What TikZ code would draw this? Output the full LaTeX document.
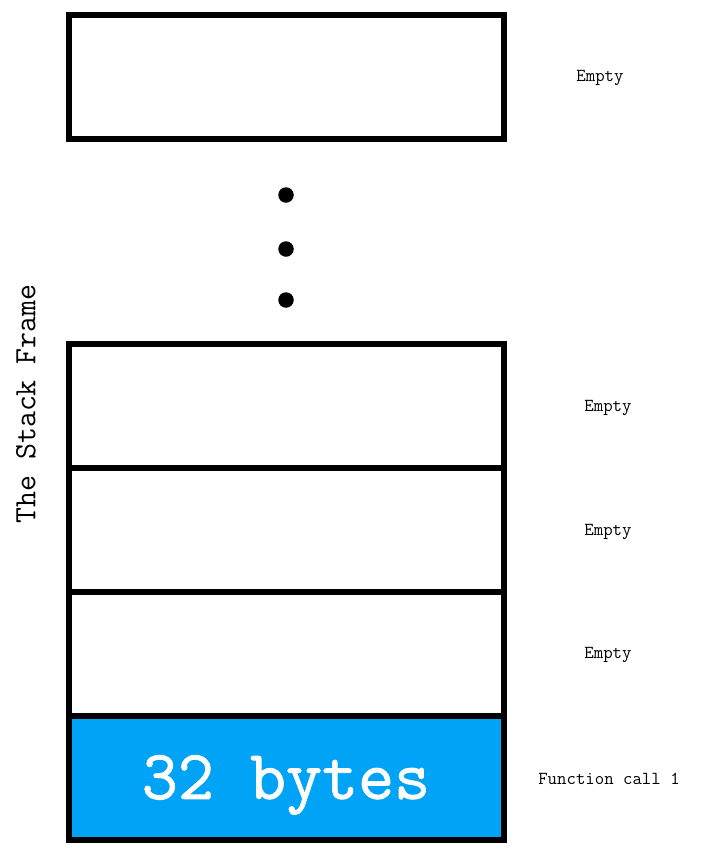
\documentclass[tikz,border=0pt]{standalone}
\usepackage{fontspec}
\newfontfamily\cmono{Latin Modern Mono}
\newfontfamily\cmonobold[FakeBold=1.2]{Latin Modern Mono}
\definecolor{stackblue}{RGB}{0,163,245}
\tikzset{
  cell/.style={draw=black, line width=6pt, minimum width=434.5pt, minimum height=124pt, inner sep=0pt, anchor=center},
  lbl/.style={font=\cmono\fontsize{18.3}{21}\selectfont, inner sep=0pt, anchor=center},
  dotc/.style={circle, fill=black, minimum size=15.5pt, inner sep=0pt}
}
\begin{document}
\begin{tikzpicture}[x=1pt,y=-1pt]
\useasboundingbox (0,0) rectangle (703,868);
\node[cell] (top) at (286.25,77) {};
\node[dotc] (d1) at (286,195) {};
\node[dotc] (d2) at (286,249) {};
\node[dotc] (d3) at (286,300) {};
\node[cell] (c4) at (286.25,406) {};
\node[cell] (c3) at (286.25,530) {};
\node[cell] (c2) at (286.25,654) {};
\node[cell, fill=stackblue] (c1) at (286.25,778) {};
\node[font=\cmonobold\fontsize{70}{80}\selectfont, text=white, inner sep=0pt] (b) at (286,785) {32 bytes};
\node[lbl] (l0) at (600,78) {Empty};
\node[lbl] (l4) at (608,408) {Empty};
\node[lbl] (l3) at (608,532) {Empty};
\node[lbl] (l2) at (608,655) {Empty};
\node[lbl] (l1) at (609,779) {Function call 1};
\node[font=\cmono\fontsize{31}{35}\selectfont, rotate=90, inner sep=0pt] (t) at (26,404) {The Stack Frame};
\end{tikzpicture}
\end{document}
